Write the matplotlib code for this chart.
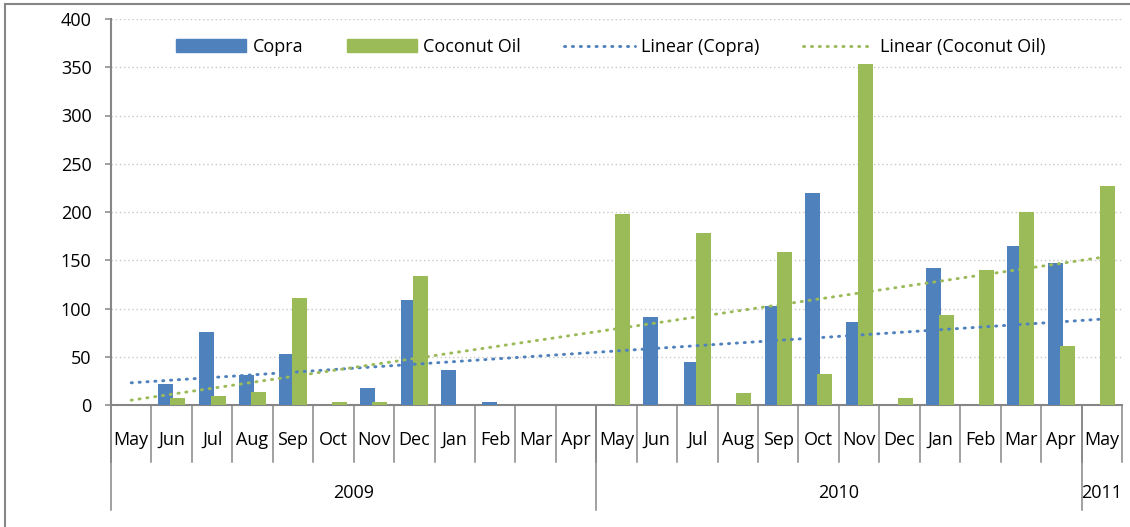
import numpy as np
import matplotlib
matplotlib.use("Agg")
import matplotlib.pyplot as plt
from matplotlib.patches import Rectangle
from matplotlib.lines import Line2D

plt.rcParams['font.family'] = ['Open Sans', 'DejaVu Sans']

months = ['May', 'Jun', 'Jul', 'Aug', 'Sep', 'Oct', 'Nov', 'Dec', 'Jan', 'Feb', 'Mar', 'Apr',
          'May', 'Jun', 'Jul', 'Aug', 'Sep', 'Oct', 'Nov', 'Dec', 'Jan', 'Feb', 'Mar', 'Apr',
          'May']
years = ['2009', '2010', '2011']
year_sizes = [12, 12, 1]

copra = [None, 22, 76, 31, 53, None, 18, 109, 36, 3, None, None,
         None, 91, 45, None, 103, 220, 86, None, 142, None, 165, 147,
         None]
coconut_oil = [None, 7, 9, 13, 111, 3, 3, 134, None, None, None, None,
               198, None, 178, 12, 159, 32, 353, 7, 93, 140, 200, 61,
               227]

# linear trend values at first and last month
copra_trend = [23, 89]
oil_trend = [5, 153]

blue = '#4F81BD'
green = '#9BBB59'
grey = '#868686'

x = np.arange(1, len(months) + 1)
cop = np.array([np.nan if v is None else v for v in copra], dtype=float)
oil = np.array([np.nan if v is None else v for v in coconut_oil], dtype=float)

fig = plt.figure(figsize=(11.3, 5.27), dpi=100)
ax = fig.add_axes([111 / 1130, 1 - 405 / 527, 1011 / 1130, 386 / 527])

w = 0.37
ax.bar(x - 0.15, cop, width=w, color=blue, zorder=3)
ax.bar(x + 0.15, oil, width=w, color=green, zorder=3)

dots = dict(linestyle=(0, (0.4, 2.3)), linewidth=2.1, dash_capstyle='round', zorder=4)
ends = [x[0], x[-1]]
ax.plot(ends, copra_trend, color=blue, **dots)
ax.plot(ends, oil_trend, color=green, **dots)

ax.set_xlim(0.5, len(months) + 0.5)
ax.set_ylim(0, 400)
ax.set_yticks(np.arange(0, 401, 50))
ax.yaxis.grid(True, color='#C8C8C8', linestyle=(0, (1, 2)), linewidth=1, zorder=0)
ax.tick_params(axis='y', length=4.5, width=1.1, color=grey, pad=9.5, labelsize=13)
ax.set_xticks([])
for s in ['top', 'right']:
    ax.spines[s].set_visible(False)
for s in ['left', 'bottom']:
    ax.spines[s].set_color(grey)
    ax.spines[s].set_linewidth(1.5)

# two-level category axis
tr = ax.get_xaxis_transform()
for i in range(len(months) + 1):
    ax.plot([i + 0.5, i + 0.5], [0, -0.148], color=grey, lw=1.1, transform=tr, clip_on=False)
for i, m in enumerate(months):
    ax.text(i + 1, -0.091, m, ha='center', va='center', fontsize=13, transform=tr)
start = 0
for yr, n in zip(years, year_sizes):
    ax.plot([start + 0.5, start + 0.5], [0, -0.272], color=grey, lw=1.1, transform=tr, clip_on=False)
    ax.text(start + 0.5 + n / 2, -0.228, yr, ha='center', va='center', fontsize=13, transform=tr)
    start += n

handles = [Rectangle((0, 0), 1, 1, color=blue), Rectangle((0, 0), 1, 1, color=green),
           Line2D([], [], color=blue, **dots), Line2D([], [], color=green, **dots)]
ax.legend(handles, ['Copra', 'Coconut Oil', 'Linear (Copra)', 'Linear (Coconut Oil)'],
          loc='center', bbox_to_anchor=(0.494, 0.927), ncol=4, frameon=False, fontsize=13,
          handlelength=3.9, handleheight=0.75, handletextpad=0.35, columnspacing=2.4)

# chart area border
fig.patches.append(Rectangle((5 / 1130, -0.5), 1.5, 0.5 + 1 - 4 / 527, transform=fig.transFigure,
                             fill=False, edgecolor=grey, linewidth=1.5))

fig.savefig('out.png', dpi=100)
